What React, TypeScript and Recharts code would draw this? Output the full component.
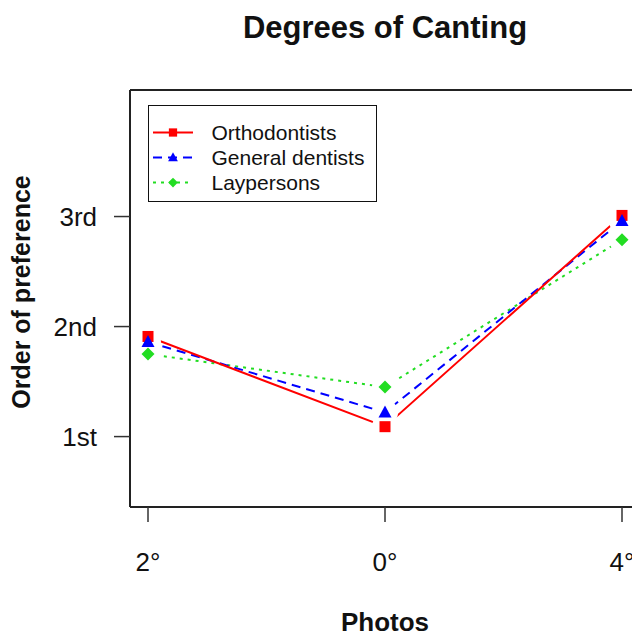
import { LineChart, Line, XAxis, YAxis, Legend } from "recharts";

const categories = ["2°", "0°", "4°"];
const orthodontists = [1.91, 1.09, 3.01];
const generalDentists = [1.86, 1.22, 2.96];
const laypersons = [1.75, 1.45, 2.79];
const yTicks = [1, 2, 3];
const yTickLabels = ["1st", "2nd", "3rd"];

type Shape = "square" | "triangle" | "diamond";

const series: { key: string; name: string; color: string; dash?: string; shape: Shape }[] = [
  { key: "orthodontists", name: "Orthodontists", color: "#ff0000", shape: "square" },
  { key: "generalDentists", name: "General dentists", color: "#0000ff", dash: "9 6", shape: "triangle" },
  { key: "laypersons", name: "Laypersons", color: "#22dd22", dash: "3 5", shape: "diamond" },
];

const rows = categories.map((name, i) => ({
  name,
  orthodontists: orthodontists[i],
  generalDentists: generalDentists[i],
  laypersons: laypersons[i],
}));

const FONT = "'Liberation Sans', Arial, Helvetica, sans-serif";
const INK = "#111";

function Marker({ shape, cx, cy, color, s = 1 }: { shape: Shape; cx: number; cy: number; color: string; s?: number }) {
  if (shape === "square") {
    const h = 5.5 * s;
    return <rect x={cx - h} y={cy - h} width={h * 2} height={h * 2} fill={color} />;
  }
  if (shape === "triangle") {
    const pts = `${cx},${cy - 7 * s} ${cx - 6.5 * s},${cy + 5 * s} ${cx + 6.5 * s},${cy + 5 * s}`;
    return <polygon points={pts} fill={color} />;
  }
  const d = 6.5 * s;
  return <polygon points={`${cx},${cy - d} ${cx + d},${cy} ${cx},${cy + d} ${cx - d},${cy}`} fill={color} />;
}

function LegendBox() {
  return (
    <div
      style={{
        width: 229,
        height: 97,
        border: `1.5px solid ${INK}`,
        boxSizing: "border-box",
        background: "white",
      }}
    >
      <svg width={226} height={94} style={{ display: "block" }}>
        {series.map((s, i) => {
          const y = 26.5 + i * 25;
          return (
            <g key={s.key}>
              <line x1={4} x2={44} y1={y} y2={y} stroke={s.color} strokeWidth={2} strokeDasharray={s.dash} />
              <Marker shape={s.shape} cx={24} cy={y} color={s.color} s={0.75} />
              <text x={62.5} y={y} dy="0.36em" fontSize={21} fill={INK} fontFamily={FONT}>
                {s.name}
              </text>
            </g>
          );
        })}
      </svg>
    </div>
  );
}

export default function App() {
  const haloOrder = [...series].reverse();
  return (
    <div
      style={{
        position: "absolute",
        left: 0,
        top: 0,
        width: 632,
        height: 633,
        overflow: "hidden",
        background: "white",
        fontFamily: FONT,
      }}
    >
      <div
        style={{
          position: "absolute",
          left: 130,
          top: 12,
          width: 510,
          textAlign: "center",
          fontSize: 31,
          lineHeight: "31px",
          fontWeight: "bold",
          color: INK,
          zIndex: 2,
        }}
      >
        Degrees of Canting
      </div>
      <LineChart width={680} height={633} data={rows} margin={{ top: 89, right: 40, bottom: 0, left: 0 }}>
        <XAxis
          dataKey="name"
          height={126}
          padding={{ left: 18, right: 18 }}
          interval={0}
          tickSize={15}
          tickMargin={31}
          tick={{ fill: INK, fontSize: 26, fontFamily: FONT }}
          tickLine={{ stroke: "#333", strokeWidth: 1.5 }}
          axisLine={{ stroke: "#222", strokeWidth: 2 }}
          label={{
            content: ({ viewBox }: any) => (
              <text
                x={viewBox.x + viewBox.width / 2}
                y={viewBox.y + 124}
                textAnchor="middle"
                fontSize={26}
                fontWeight="bold"
                fill={INK}
                fontFamily={FONT}
              >
                Photos
              </text>
            ),
          }}
        />
        <XAxis
          xAxisId="top"
          orientation="top"
          dataKey="name"
          height={1}
          padding={{ left: 18, right: 18 }}
          interval={0}
          tick={false}
          tickLine={false}
          axisLine={{ stroke: "#222", strokeWidth: 2 }}
        />
        <YAxis
          width={130}
          domain={[0.36, 4.15]}
          allowDataOverflow
          ticks={yTicks}
          tickFormatter={(v: number) => yTickLabels[yTicks.indexOf(v)] ?? ""}
          tickSize={16}
          tickMargin={17}
          tick={{ fill: INK, fontSize: 26, fontFamily: FONT }}
          tickLine={{ stroke: "#333", strokeWidth: 1.5 }}
          axisLine={{ stroke: "#222", strokeWidth: 2 }}
          label={{
            content: () => (
              <text
                x={30}
                y={292}
                transform="rotate(-90, 30, 292)"
                textAnchor="middle"
                fontSize={25}
                fontWeight="bold"
                fill={INK}
                fontFamily={FONT}
              >
                Order of preference
              </text>
            ),
          }}
        />
        <Legend
          layout="horizontal"
          verticalAlign="middle"
          wrapperStyle={{ left: 148, top: 105, width: 229, height: 97 }}
          content={() => <LegendBox />}
        />
        {haloOrder.map((s) => (
          <Line
            key={`line-${s.key}`}
            dataKey={s.key}
            name={s.name}
            stroke={s.color}
            strokeWidth={2}
            strokeDasharray={s.dash}
            type="linear"
            legendType="none"
            activeDot={false}
            isAnimationActive={false}
            dot={(p: any) => <circle key={`h-${s.key}-${p.index}`} cx={p.cx} cy={p.cy} r={13} fill="white" />}
          />
        ))}
        {series.map((s) => (
          <Line
            key={`pts-${s.key}`}
            xAxisId="top"
            dataKey={s.key}
            stroke="none"
            type="linear"
            legendType="none"
            activeDot={false}
            isAnimationActive={false}
            dot={(p: any) => (
              <Marker key={`m-${s.key}-${p.index}`} shape={s.shape} cx={p.cx} cy={p.cy} color={s.color} />
            )}
          />
        ))}
      </LineChart>
    </div>
  );
}
